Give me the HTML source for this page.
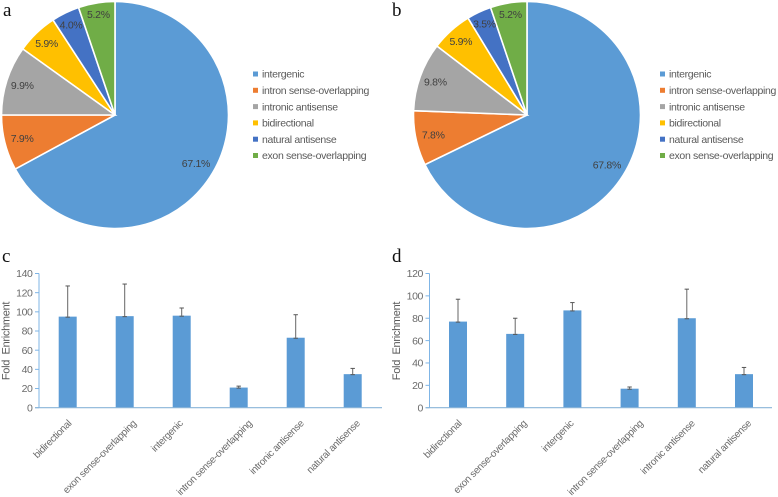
<!DOCTYPE html>
<html>
<head>
<meta charset="utf-8">
<style>
html,body{margin:0;padding:0;background:#fff;width:778px;height:497px;overflow:hidden}
svg{display:block;font-family:"Liberation Sans",sans-serif;filter:blur(0.35px)}
</style>
</head>
<body>
<svg id="figure" width="778" height="497" viewBox="0 0 778 497" xmlns="http://www.w3.org/2000/svg">
  <text x="3" y="16" font-family="Liberation Serif" font-size="19" fill="#111">a</text>
  <text x="392" y="16" font-family="Liberation Serif" font-size="19" fill="#111">b</text>
  <text x="2" y="262" font-family="Liberation Serif" font-size="19" fill="#111">c</text>
  <text x="392" y="262" font-family="Liberation Serif" font-size="19" fill="#111">d</text>
</svg>
<script>
const pieCategories = ["intergenic","intron sense-overlapping","intronic antisense","bidirectional","natural antisense","exon sense-overlapping"];
const pieValuesA = [67.1,7.9,9.9,5.9,4.0,5.2];
const pieValuesB = [67.8,7.8,9.8,5.9,3.5,5.2];
const pieColors = ["#5b9bd5","#ed7d31","#a5a5a5","#ffc000","#4472c4","#70ad47"];

const barCategories = ["bidirectional","exon sense-overlapping","intergenic","intron sense-overlapping","intronic antisense","natural antisense"];
const barValuesC = [95,95.5,96,21,73,35];
const barErrorsC = [32,33.5,8,1.5,24,6];
const tickLabelsC = [0,20,40,60,80,100,120,140];
const barValuesD = [77,66,87,17,80,30];
const barErrorsD = [20,14,7,1.5,26,6];
const tickLabelsD = [0,20,40,60,80,100,120];

const svg = document.getElementById('figure');
const NS = 'http://www.w3.org/2000/svg';
function make(tag, attrs, text){
  const el = document.createElementNS(NS, tag);
  for(const k in attrs) el.setAttribute(k, attrs[k]);
  if(text !== undefined) el.textContent = text;
  svg.appendChild(el);
  return el;
}

function drawPie(id, values, cx, cy, r, legendX){
  const total = values.reduce((a,b)=>a+b,0);
  let acc = 0;
  values.forEach((v,i)=>{
    const a0 = acc/total*2*Math.PI;
    acc += v;
    const a1 = acc/total*2*Math.PI;
    const x0 = cx+r*Math.sin(a0), y0 = cy-r*Math.cos(a0);
    const x1 = cx+r*Math.sin(a1), y1 = cy-r*Math.cos(a1);
    const large = (a1-a0)>Math.PI?1:0;
    const slice = make('path',{d:`M${cx} ${cy}L${x0} ${y0}A${r} ${r} 0 ${large} 1 ${x1} ${y1}Z`,fill:pieColors[i],stroke:'#fff','stroke-width':1.6});
    
    
  });
  acc = 0;
  values.forEach((v,i)=>{
    const mid = (acc+v/2)/total*2*Math.PI;
    acc += v;
    const lr = r*(0.83+0.014*i);
    const label = make('text',{x:cx+lr*Math.sin(mid),y:cy-lr*Math.cos(mid)+3.7,'text-anchor':'middle','font-size':10.5,'letter-spacing':'-0.3',fill:'#404040'},v.toFixed(1)+'%');
    
    
  });
  pieCategories.forEach((c,i)=>{
    const ly = 74+i*16.3;
    const swatch = make('rect',{x:legendX,y:ly-2.5,width:5,height:5,fill:pieColors[i]});
    
    
    const text = make('text',{x:legendX+9,y:ly+3.7,'font-size':10.5,fill:'#595959','letter-spacing':'-0.33'},c);
    
    
  });
}

function drawBars(id, values, errors, ticks, axisX, axisEnd, firstCenter, step){
  const y0 = 407.7, yTop = 273.5;
  const yMax = ticks[ticks.length-1];
  const yScale = v => y0-(v/yMax)*(y0-yTop);
  const xScale = i => firstCenter+i*step;

  const yAxis = make('line',{x1:axisX,x2:axisX,y1:yTop,y2:y0,stroke:'#7fb5e6','stroke-width':1});
  
  

  ticks.forEach(t=>{
    const y = yScale(t);
    const mark = make('line',{x1:axisX-4,x2:axisX,y1:y,y2:y,stroke:'#7fb5e6','stroke-width':1});
    
    
    const label = make('text',{x:axisX-6.5,y:y+3.7,'text-anchor':'end','font-size':10.5,'letter-spacing':'-0.4',fill:'#6a6a6a'},t);
    
    
  });

  values.forEach((v,i)=>{
    const cx = xScale(i), top = yScale(v), hi = yScale(v+errors[i]);
    const bar = make('rect',{x:cx-9,y:top,width:18,height:y0-top,fill:'#5b9bd5'});
    
    
    const stem = make('line',{x1:cx,x2:cx,y1:top,y2:hi,stroke:'#666','stroke-width':1});
    
    
    const capTop = make('line',{x1:cx-2.2,x2:cx+2.2,y1:hi,y2:hi,stroke:'#555','stroke-width':1});
    
    
    const capLow = make('line',{x1:cx-2.2,x2:cx+2.2,y1:top+0.5,y2:top+0.5,stroke:'#555','stroke-width':1});
    
    
    const lx = cx+(barCategories[i].length-8)*0.87, ly = 424;
    const label = make('text',{x:lx,y:ly,'text-anchor':'end','font-size':10,'letter-spacing':'-0.33',fill:'#6a6a6a',transform:`rotate(-45 ${lx} ${ly})`},barCategories[i]);
    
    
  });

  const xAxis = make('line',{x1:axisX-4,x2:axisEnd,y1:y0,y2:y0,stroke:'#8ab4d8','stroke-width':1.2});
  
  

  const tx = axisX-29.5, ty = 341;
  const title = make('text',{x:tx,y:ty,'text-anchor':'middle','font-size':11,'letter-spacing':'-0.3',fill:'#595959',transform:`rotate(-90 ${tx} ${ty})`},'Fold\u00a0\u00a0Enrichment');
  
  
}

drawPie('a', pieValuesA, 115, 115, 113.5, 253);
drawPie('b', pieValuesB, 527, 115, 113.5, 660);
drawBars('c', barValuesC, barErrorsC, tickLabelsC, 39, 382, 67.7, 57);
drawBars('d', barValuesD, barErrorsD, tickLabelsD, 429.5, 772, 458, 57.2);
</script>
</body>
</html>
